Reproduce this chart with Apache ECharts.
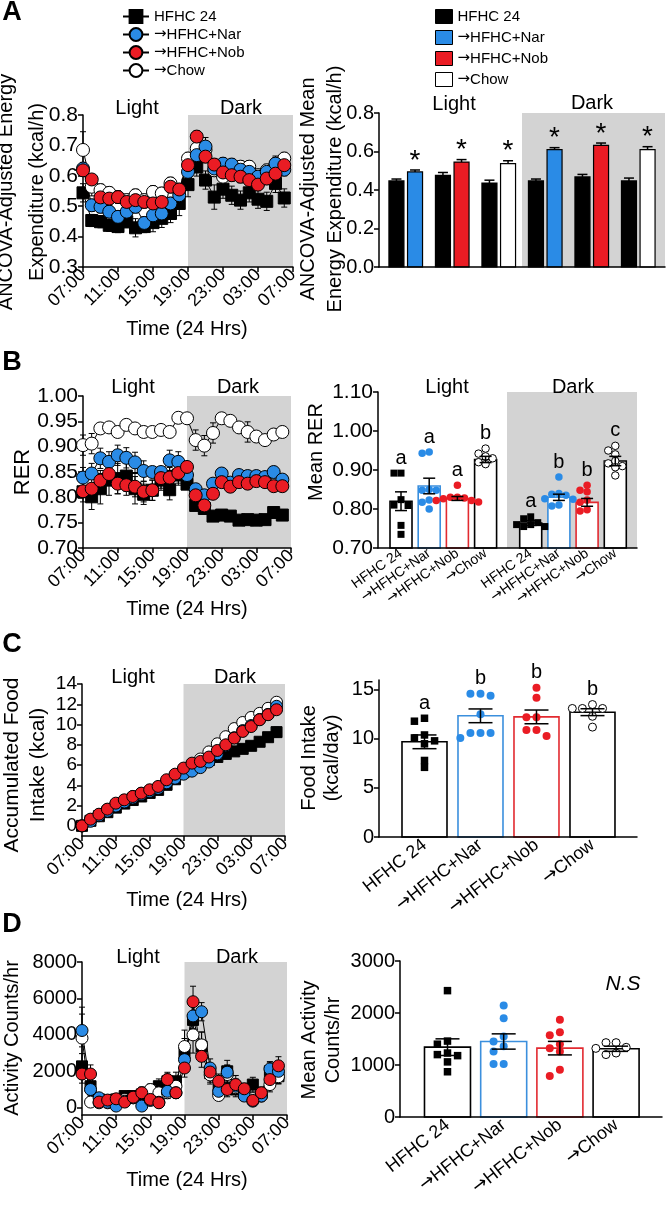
<!DOCTYPE html>
<html><head><meta charset="utf-8">
<script src="https://cdn.jsdelivr.net/npm/echarts@6/dist/echarts.min.js"></script>
<style>html,body{margin:0;padding:0;background:#fff}#c{width:667px;height:1207px}</style>
</head><body><div id="c"></div>
<script>
// ---------------- DATA ----------------
const GROUPS = ['HFHC 24', '→HFHC+Nar', '→HFHC+Nob', '→Chow'];
const TIME_TICKS = ['07:00', '11:00', '15:00', '19:00', '23:00', '03:00', '07:00'];
const HOURS = [0,1,2,3,4,5,6,7,8,9,10,11,12,13,14,15,16,17,18,19,20,21,22,23];
const DARK_HOURS = [12, 24];

// A: ANCOVA-adjusted energy expenditure (kcal/h)
const EE_HFHC = [0.544,0.453,0.449,0.437,0.433,0.449,0.429,0.433,0.446,0.460,0.476,0.509,0.571,0.629,0.586,0.530,0.556,0.536,0.520,0.544,0.523,0.516,0.575,0.527];
const EE_NAR  = [0.624,0.503,0.498,0.482,0.465,0.482,0.498,0.445,0.470,0.476,0.509,0.536,0.613,0.668,0.696,0.624,0.640,0.637,0.620,0.613,0.597,0.613,0.640,0.620];
const EE_NOB  = [0.618,0.588,0.529,0.525,0.530,0.514,0.520,0.514,0.509,0.514,0.564,0.555,0.635,0.729,0.663,0.637,0.611,0.602,0.597,0.586,0.571,0.591,0.607,0.635];
const EE_CHOW = [0.685,0.564,0.553,0.544,0.530,0.520,0.536,0.520,0.547,0.542,0.575,0.553,0.657,0.690,0.685,0.618,0.597,0.630,0.630,0.630,0.602,0.618,0.635,0.657];
const EE_HFHC_SEM = [0.03,0.02,0.02,0.02,0.02,0.02,0.03,0.02,0.03,0.03,0.03,0.04,0.04,0.03,0.03,0.04,0.03,0.03,0.03,0.03,0.03,0.03,0.03,0.03];
const EE_NAR_SEM  = [0.02,0.02,0.02,0.02,0.02,0.02,0.02,0.02,0.02,0.02,0.02,0.02,0.02,0.03,0.03,0.02,0.02,0.02,0.02,0.02,0.02,0.02,0.02,0.02];
const EE_NOB_SEM  = [0.02,0.01,0.02,0.02,0.02,0.02,0.02,0.02,0.02,0.02,0.02,0.02,0.02,0.02,0.02,0.02,0.02,0.02,0.02,0.02,0.02,0.02,0.02,0.02];
const EE_CHOW_SEM = [0.06,0.03,0.02,0.02,0.02,0.02,0.02,0.02,0.02,0.02,0.02,0.02,0.02,0.03,0.02,0.02,0.02,0.02,0.02,0.02,0.02,0.02,0.03,0.02];

const EE_LIGHT_MEAN = [0.447,0.494,0.476,0.545,0.436,0.537];
const EE_LIGHT_SEM  = [0.010,0.010,0.015,0.013,0.015,0.015];
const EE_DARK_MEAN  = [0.447,0.610,0.468,0.632,0.447,0.610];
const EE_DARK_SEM   = [0.010,0.010,0.013,0.012,0.015,0.015];
const EE_BAR_GROUP  = [0,1,0,2,0,3];
const EE_BAR_SIG    = ['','*','','*','','*'];

// B: RER
const RER_HFHC = [0.811,0.801,0.817,0.834,0.837,0.842,0.817,0.806,0.814,0.834,0.815,0.844,0.826,0.784,0.778,0.763,0.765,0.763,0.755,0.756,0.755,0.756,0.770,0.765];
const RER_NAR  = [0.839,0.847,0.877,0.870,0.883,0.878,0.869,0.852,0.850,0.850,0.873,0.870,0.844,0.816,0.804,0.827,0.847,0.829,0.844,0.842,0.842,0.840,0.850,0.835];
const RER_NOB  = [0.812,0.817,0.833,0.846,0.827,0.824,0.821,0.811,0.814,0.838,0.839,0.848,0.860,0.804,0.784,0.807,0.830,0.821,0.830,0.827,0.832,0.830,0.822,0.822];
const RER_CHOW = [0.903,0.906,0.936,0.938,0.929,0.943,0.936,0.929,0.929,0.933,0.929,0.957,0.956,0.913,0.902,0.927,0.956,0.951,0.938,0.929,0.920,0.913,0.924,0.929];
const RER_HFHC_SEM = [0.020,0.025,0.030,0.030,0.030,0.030,0.030,0.020,0.020,0.020,0.020,0.020,0.010,0.010,0.005,0.005,0.005,0.005,0.005,0.005,0.005,0.005,0.010,0.010];
const RER_NAR_SEM  = [0.020,0.020,0.020,0.020,0.020,0.020,0.020,0.020,0.010,0.010,0.020,0.020,0.020,0.010,0.010,0.010,0.010,0.010,0.010,0.010,0.010,0.010,0.010,0.010];
const RER_NOB_SEM  = [0.010,0.010,0.020,0.020,0.020,0.020,0.020,0.020,0.020,0.020,0.020,0.020,0.010,0.010,0.010,0.010,0.010,0.010,0.010,0.010,0.010,0.010,0.010,0.010];
const RER_CHOW_SEM = [0.020,0.020,0.010,0.010,0.010,0.010,0.010,0.010,0.010,0.010,0.010,0.010,0.010,0.020,0.020,0.020,0.010,0.010,0.010,0.020,0.010,0.010,0.010,0.010];

const RER_LIGHT_MEAN = [0.820,0.859,0.827,0.927];
const RER_LIGHT_SEM  = [0.024,0.020,0.005,0.008];
const RER_DARK_MEAN  = [0.764,0.830,0.817,0.923];
const RER_DARK_SEM   = [0.006,0.008,0.010,0.012];
const RER_LIGHT_HFHC = [0.892,0.892,0.824,0.809,0.810,0.758,0.735];
const RER_LIGHT_NAR  = [0.946,0.943,0.848,0.850,0.848,0.823,0.817,0.800];
const RER_LIGHT_NOB  = [0.861,0.830,0.826,0.822,0.830,0.828,0.822,0.818];
const RER_LIGHT_CHOW = [0.955,0.942,0.935,0.920,0.915,0.930];
const RER_DARK_HFHC  = [0.780,0.775,0.760,0.755,0.755,0.760,0.765];
const RER_DARK_NAR   = [0.882,0.840,0.838,0.826,0.825,0.810,0.808,0.835];
const RER_DARK_NOB   = [0.861,0.848,0.844,0.823,0.817,0.798,0.795];
const RER_DARK_CHOW  = [0.950,0.962,0.940,0.923,0.917,0.910,0.886,0.907];
const RER_LIGHT_LETTERS = ['a','a','a','b'];
const RER_DARK_LETTERS  = ['a','b','b','c'];

// C: food intake
const FOOD_HFHC = [0,0.50,0.95,1.35,1.80,2.20,2.55,2.90,3.25,3.55,4.05,4.60,5.30,5.80,6.15,6.50,6.80,7.10,7.35,7.60,7.90,8.30,8.75,9.25];
const FOOD_NAR  = [0,0.45,1.00,1.45,1.95,2.35,2.75,3.10,3.40,3.70,4.25,4.70,5.10,5.40,5.75,6.30,7.10,7.90,8.70,9.40,9.90,10.50,11.00,11.80];
const FOOD_NOB  = [0,0.66,1.15,1.65,2.24,2.57,2.90,3.23,3.56,3.89,4.55,5.10,5.70,6.19,6.36,6.79,7.44,8.00,8.66,9.32,9.80,10.47,10.97,11.46];
const FOOD_CHOW = [0,0.60,1.10,1.60,2.10,2.50,2.90,3.20,3.50,3.80,4.40,4.90,5.50,6.10,6.60,7.30,8.10,8.80,9.60,10.20,10.70,11.10,11.60,12.20];
const FOOD_HFHC_SEM = [0,0.10,0.10,0.10,0.15,0.15,0.15,0.20,0.20,0.20,0.20,0.25,0.25,0.25,0.30,0.30,0.30,0.35,0.35,0.35,0.40,0.40,0.45,0.50];
const FOOD_NAR_SEM  = [0,0.10,0.10,0.10,0.10,0.15,0.15,0.15,0.20,0.20,0.20,0.20,0.25,0.25,0.25,0.30,0.30,0.30,0.30,0.35,0.35,0.35,0.40,0.40];
const FOOD_NOB_SEM  = [0,0.10,0.10,0.10,0.10,0.15,0.15,0.15,0.15,0.20,0.20,0.20,0.20,0.25,0.25,0.25,0.30,0.30,0.30,0.35,0.35,0.35,0.40,0.40];
const FOOD_CHOW_SEM = [0,0.10,0.10,0.10,0.10,0.10,0.15,0.15,0.15,0.15,0.20,0.20,0.20,0.20,0.25,0.25,0.25,0.25,0.30,0.30,0.30,0.30,0.30,0.30];
const FOOD_ACC_TICKS = [0,2,4,6,8,10,12,14];

const FOOD_DAY_MEAN = [9.70,12.35,12.24,12.72];
const FOOD_DAY_SEM  = [0.70,0.70,0.70,0.35];
const FOOD_DAY_HFHC = [12.1,11.8,10.4,10.1,9.8,9.5,7.8,7.1];
const FOOD_DAY_NAR  = [14.6,14.4,14.6,12.5,10.6,10.1,10.6,10.6];
const FOOD_DAY_NOB  = [15.2,14.2,12.2,12.2,10.9,10.9,10.3];
const FOOD_DAY_CHOW = [13.1,13.1,13.5,13.1,12.3,11.2];
const FOOD_DAY_LETTERS = ['a','b','b','b'];
const FOOD_DAY_TICKS = [0,5,10,15];

// D: activity
const ACT_HFHC = [2270,1180,455,400,455,640,640,730,820,1180,1450,1450,3000,4820,3360,1900,950,2000,1000,820,1270,820,2000,1730];
const ACT_NAR  = [4240,1000,545,300,90,360,545,90,400,300,900,820,2640,5040,5270,2180,900,1950,1180,640,360,640,2130,2000];
const ACT_NOB  = [1850,1850,310,420,490,310,580,820,455,270,1545,820,2180,5820,2820,1960,1450,1000,1270,1040,400,820,1545,2300];
const ACT_CHOW = [3820,310,270,270,310,450,545,820,1000,820,820,1180,3360,4000,3450,1800,670,1820,1100,900,500,640,1270,1700];
const ACT_HFHC_SEM = [700,500,200,150,150,200,250,250,300,400,400,500,800,900,800,500,300,600,400,300,400,300,500,400];
const ACT_NAR_SEM  = [900,400,200,150,100,200,200,100,200,200,400,300,600,700,500,500,300,400,400,200,200,200,400,500];
const ACT_NOB_SEM  = [500,500,150,150,200,150,250,300,200,200,400,300,500,850,600,400,400,400,500,300,200,300,400,500];
const ACT_CHOW_SEM = [1700,200,150,150,150,200,200,300,300,300,300,400,900,1000,700,500,200,500,300,250,200,250,400,400];
const ACT_TICKS = [0,2000,4000,6000,8000];

const ACT_MEAN = [1343,1452,1324,1312];
const ACT_SEM  = [160,147,130,50];
const ACT_DOT_HFHC = [2430,1460,1400,1230,1200,1180,1060,870];
const ACT_DOT_NAR  = [2145,1900,1550,1450,1360,1260,1020,1020];
const ACT_DOT_NOB  = [1870,1630,1570,1400,1320,1260,910,790];
const ACT_DOT_CHOW = [1430,1430,1340,1320,1230,1200];

// ---------------- STYLE ----------------
const FONT = '"Liberation Sans", Arial, sans-serif';
const ARROW_FONT = '"DejaVu Sans", sans-serif';
const FILL = ['#000000', '#2a8be6', '#ea1c24', '#ffffff'];
const EDGE = ['#000000', '#3b8fdd', '#e22a30', '#000000'];
const SYM = ['rect', 'circle', 'circle', 'circle'];
const DRAW_ORDER = [0, 3, 1, 2];
const SHADE = '#d3d3d3';

function richName(name) {
  return name.charAt(0) === '→' ? '{a|→}{t|' + name.slice(1) + '}' : '{t|' + name + '}';
}
function richStyle(fs) {
  return {a: {fontFamily: ARROW_FONT, fontSize: fs, color: '#000'}, t: {fontFamily: FONT, fontSize: fs, color: '#000'}};
}

const grids = [
  {left: 83,  top: 115, width: 210, height: 152},
  {left: 379, top: 113, width: 286, height: 154},
  {left: 83,  top: 396, width: 208, height: 152},
  {left: 378, top: 392, width: 259, height: 156},
  {left: 82,  top: 684, width: 203, height: 152},
  {left: 379, top: 680, width: 258, height: 157},
  {left: 82,  top: 962, width: 205, height: 153},
  {left: 400, top: 961, width: 262, height: 156}
];

const xAxes = [], yAxes = [], series = [];
const AXLINE = {show: true, onZero: false, lineStyle: {color: '#000', width: 1.5}};

function timeX(gi) {
  return {gridIndex: gi, type: 'value', min: 0, max: 24, interval: 4, z: 3,
    axisLine: AXLINE, axisTick: {show: true, length: 5, lineStyle: {color: '#000', width: 1.5}},
    splitLine: {show: false},
    axisLabel: {rotate: 45, margin: 5, fontSize: 18, color: '#000', fontFamily: FONT,
      showMinLabel: true, showMaxLabel: true, hideOverlap: false,
      formatter: v => TIME_TICKS[Math.round(v / 4)]}};
}
function catX(gi, min, max, pos, o) {
  return {gridIndex: gi, type: 'value', min: min, max: max, z: 3,
    axisLine: AXLINE, axisTick: {show: false}, splitLine: {show: false},
    axisLabel: {show: !!o, rotate: o ? o.rot : 0, margin: o ? o.margin : 0, fontSize: o ? o.fs : 12,
      color: '#000', fontFamily: FONT, customValues: pos, rich: richStyle(o ? o.fs : 12),
      showMinLabel: true, showMaxLabel: true, hideOverlap: false,
      formatter: v => { const i = pos.findIndex(p => Math.abs(p - v) < 1e-6); return i < 0 ? '' : richName(GROUPS[i % 4]); }}};
}
function valY(gi, o) {
  const ax = {gridIndex: gi, type: 'value', min: o.min, max: o.max, z: 0,
    axisLine: AXLINE, axisTick: {show: true, length: 5, lineStyle: {color: '#000', width: 1.5}},
    splitLine: {show: false},
    axisLabel: {color: '#000', fontSize: o.fs, fontFamily: FONT, margin: 5, formatter: o.fmt, lineHeight: o.lh || 14,
      showMinLabel: true, showMaxLabel: true, hideOverlap: false}};
  if (o.interval) ax.interval = o.interval;
  if (o.ticks) { ax.axisLabel.customValues = o.ticks; ax.axisTick.customValues = o.ticks; }
  return ax;
}

function errItem(capW, upOnly, lw) {
  return function (params, api) {
    const x = api.value(0), m = api.value(1), e = api.value(2);
    if (!e) return null;
    const t = api.coord([x, m + e]);
    const b = api.coord([x, upOnly ? m : m - e]);
    const st = {stroke: '#000', lineWidth: lw, fill: null};
    const ch = [
      {type: 'line', shape: {x1: t[0], y1: t[1], x2: b[0], y2: b[1]}, style: st},
      {type: 'line', shape: {x1: t[0] - capW / 2, y1: t[1], x2: t[0] + capW / 2, y2: t[1]}, style: st}
    ];
    if (!upOnly) ch.push({type: 'line', shape: {x1: b[0] - capW / 2, y1: b[1], x2: b[0] + capW / 2, y2: b[1]}, style: st});
    return {type: 'group', children: ch};
  };
}

function linePanel(gi, vals, sems, symSize, tag) {
  DRAW_ORDER.forEach(g => {
    series.push({type: 'custom', xAxisIndex: gi, yAxisIndex: gi, z: 1, silent: true,
      encode: {x: 0, y: 1}, renderItem: errItem(6, false, 1),
      data: HOURS.map((h, i) => [h, vals[g][i], sems[g][i]])});
  });
  DRAW_ORDER.forEach((g, k) => {
    const s = {type: 'line', name: tag ? GROUPS[g] + ' ' + tag : GROUPS[g], xAxisIndex: gi, yAxisIndex: gi, z: 2,
      data: HOURS.map((h, i) => [h, vals[g][i]]), symbol: SYM[g], symbolSize: g === 0 ? symSize - 1 : symSize,
      showSymbol: true, showAllSymbol: true, silent: true,
      lineStyle: {color: '#000', width: 1}, itemStyle: {color: FILL[g], borderColor: '#000', borderWidth: 1},
      emphasis: {disabled: true}};
    if (k === 0) s.markArea = {silent: true, itemStyle: {color: SHADE}, data: [[{xAxis: DARK_HOURS[0]}, {xAxis: DARK_HOURS[1]}]]};
    series.push(s);
  });
}

function swarm(vals, center, dx, minDy) {
  const placed = [], res = new Array(vals.length);
  const order = vals.map((v, i) => i).sort((a, b) => vals[b] - vals[a]);
  order.forEach(i => {
    const v = vals[i];
    for (const k of [0, -1, 1, -2, 2, -3, 3]) {
      if (!placed.some(p => p.k === k && Math.abs(p.v - v) < minDy)) { placed.push({k: k, v: v}); res[i] = [center + k * dx, v]; break; }
    }
  });
  return res;
}

function barPanel(gi, o) {
  const bars = {type: 'custom', xAxisIndex: gi, yAxisIndex: gi, z: 2, silent: true, encode: {x: 0, y: 1},
    data: o.pos.map((x, i) => [x, o.mean[i], o.grp[i]]),
    renderItem: (params, api) => {
      const x = api.value(0), v = api.value(1), g = api.value(2);
      const p = api.coord([x, v]), b = api.coord([x, o.yMin]);
      return {type: 'rect', shape: {x: p[0] - o.barW / 2, y: p[1], width: o.barW, height: b[1] - p[1]},
        style: {fill: o.filled ? FILL[g] : '#fff', stroke: o.filled ? '#000' : EDGE[g], lineWidth: o.filled ? 1.2 : 1.6}};
    }};
  if (o.shade) bars.markArea = {silent: true, itemStyle: {color: SHADE}, data: [[{xAxis: o.shade[0]}, {xAxis: o.shade[1]}]]};
  series.push(bars);
  if (o.dots) o.dots.forEach((vals, i) => {
    const g = o.grp[i];
    series.push({type: 'scatter', xAxisIndex: gi, yAxisIndex: gi, z: 3, silent: true,
      symbol: SYM[g], symbolSize: g === 0 ? o.dotSize - 0.5 : o.dotSize,
      itemStyle: {color: FILL[g], borderColor: '#000', borderWidth: g === 3 ? 1 : 0, opacity: 1},
      data: swarm(vals, o.pos[i], o.dx, o.minDy)});
  });
  series.push({type: 'custom', xAxisIndex: gi, yAxisIndex: gi, z: 4, silent: true, encode: {x: 0, y: 1},
    renderItem: errItem(o.capW, o.upOnly, 1.5), data: o.pos.map((x, i) => [x, o.mean[i], o.sem[i]])});
  if (o.marks) {
    const tops = o.pos.map((x, i) => o.dots ? Math.max.apply(null, o.dots[i]) : o.mean[i] + o.sem[i]);
    series.push({type: 'custom', xAxisIndex: gi, yAxisIndex: gi, z: 5, silent: true, encode: {x: 0, y: 1},
      data: o.pos.map((x, i) => [x, tops[i]]),
      renderItem: (params, api) => {
        const t = o.marks[params.dataIndex];
        if (!t) return null;
        const p = api.coord([api.value(0), api.value(1)]);
        return {type: 'text', x: p[0], y: p[1] - o.markGap,
          style: {text: t, font: o.markFont, fill: '#000', align: 'center', verticalAlign: 'middle',
            textAlign: 'center', textVerticalAlign: 'middle'}};
      }});
  }
}

// ---- A left ----
xAxes.push(timeX(0));
yAxes.push(valY(0, {min: 0.3, max: 0.8, interval: 0.1, fs: 21, fmt: v => v.toFixed(1)}));
linePanel(0, [EE_HFHC, EE_NAR, EE_NOB, EE_CHOW], [EE_HFHC_SEM, EE_NAR_SEM, EE_NOB_SEM, EE_CHOW_SEM], 13, '');

// ---- A right ----
(function () {
  const pos = [], mean = [], sem = [], grp = [], sig = [];
  [[EE_LIGHT_MEAN, EE_LIGHT_SEM], [EE_DARK_MEAN, EE_DARK_SEM]].forEach((set, s) => {
    for (let k = 0; k < 3; k++) {
      for (let j = 0; j < 2; j++) {
        const i = k * 2 + j;
        pos.push(s * 3 + k + (j === 0 ? -0.2 : 0.2));
        mean.push(set[0][i]); sem.push(set[1][i]); grp.push(EE_BAR_GROUP[i]); sig.push(EE_BAR_SIG[i]);
      }
    }
  });
  xAxes.push(catX(1, -0.575, 5.575, pos, null));
  yAxes.push(valY(1, {min: 0, max: 0.8, interval: 0.2, fs: 20, fmt: v => v.toFixed(1)}));
  barPanel(1, {pos, mean, sem, grp, barW: 15, yMin: 0, filled: true, capW: 10, upOnly: true,
    shade: [2.5, 5.575], marks: sig, markFont: '28px ' + FONT, markGap: 9});
})();

// ---- B left ----
xAxes.push(timeX(2));
yAxes.push(valY(2, {min: 0.70, max: 1.00, interval: 0.05, fs: 21, fmt: v => v.toFixed(2)}));
linePanel(2, [RER_HFHC, RER_NAR, RER_NOB, RER_CHOW], [RER_HFHC_SEM, RER_NAR_SEM, RER_NOB_SEM, RER_CHOW_SEM], 13, 'RER');

// ---- B right ----
(function () {
  const pos = [0, 1, 2, 3, 4.6, 5.6, 6.6, 7.6];
  xAxes.push(catX(3, -0.816, 8.37, pos, {rot: 35, margin: 4, fs: 14}));
  yAxes.push(valY(3, {min: 0.70, max: 1.10, interval: 0.1, fs: 21, fmt: v => v.toFixed(2)}));
  barPanel(3, {pos, mean: RER_LIGHT_MEAN.concat(RER_DARK_MEAN), sem: RER_LIGHT_SEM.concat(RER_DARK_SEM),
    grp: [0, 1, 2, 3, 0, 1, 2, 3], barW: 22, yMin: 0.70, filled: false, capW: 12, upOnly: false,
    dots: [RER_LIGHT_HFHC, RER_LIGHT_NAR, RER_LIGHT_NOB, RER_LIGHT_CHOW, RER_DARK_HFHC, RER_DARK_NAR, RER_DARK_NOB, RER_DARK_CHOW],
    dx: 0.25, minDy: 0.016, dotSize: 7.5, shade: [3.76, 8.37],
    marks: RER_LIGHT_LETTERS.concat(RER_DARK_LETTERS), markFont: '20px ' + FONT, markGap: 15});
})();

// ---- C left ----
xAxes.push(timeX(4));
yAxes.push(valY(4, {min: -1, max: 14, fs: 19, lh: 12, ticks: FOOD_ACC_TICKS, fmt: v => String(v)}));
linePanel(4, [FOOD_HFHC, FOOD_NAR, FOOD_NOB, FOOD_CHOW], [FOOD_HFHC_SEM, FOOD_NAR_SEM, FOOD_NOB_SEM, FOOD_CHOW_SEM], 12, 'Food');

// ---- C right ----
(function () {
  const pos = [0, 1, 2, 3];
  xAxes.push(catX(5, -0.8125, 3.795, pos, {rot: 38, margin: 6, fs: 18}));
  yAxes.push(valY(5, {min: 0, max: 16, fs: 20, ticks: FOOD_DAY_TICKS, fmt: v => String(v)}));
  barPanel(5, {pos, mean: FOOD_DAY_MEAN, sem: FOOD_DAY_SEM, grp: [0, 1, 2, 3], barW: 45, yMin: 0, filled: false,
    capW: 24, upOnly: false, dots: [FOOD_DAY_HFHC, FOOD_DAY_NAR, FOOD_DAY_NOB, FOOD_DAY_CHOW],
    dx: 0.18, minDy: 0.7, dotSize: 8, marks: FOOD_DAY_LETTERS, markFont: '20px ' + FONT, markGap: 15});
})();

// ---- D left ----
xAxes.push(timeX(6));
yAxes.push(valY(6, {min: -400, max: 8000, fs: 20, ticks: ACT_TICKS, fmt: v => String(v)}));
linePanel(6, [ACT_HFHC, ACT_NAR, ACT_NOB, ACT_CHOW], [ACT_HFHC_SEM, ACT_NAR_SEM, ACT_NOB_SEM, ACT_CHOW_SEM], 12, 'Act');

// ---- D right ----
(function () {
  const pos = [0, 1, 2, 3];
  xAxes.push(catX(7, -0.845, 3.817, pos, {rot: 38, margin: 6, fs: 18}));
  yAxes.push(valY(7, {min: 0, max: 3000, interval: 1000, fs: 20, fmt: v => String(v)}));
  barPanel(7, {pos, mean: ACT_MEAN, sem: ACT_SEM, grp: [0, 1, 2, 3], barW: 46, yMin: 0, filled: false,
    capW: 24, upOnly: false, dots: [ACT_DOT_HFHC, ACT_DOT_NAR, ACT_DOT_NOB, ACT_DOT_CHOW],
    dx: 0.18, minDy: 135, dotSize: 8});
})();

// ---------------- TEXT ----------------
function txt(text, x, y, fs, opt) {
  opt = opt || {};
  return {type: 'text', x: x, y: y, rotation: opt.rot || 0, silent: true, z: 10,
    style: {text: text, font: (opt.style || '') + ' ' + (opt.weight || 'normal') + ' ' + fs + 'px ' + FONT,
      fill: '#000', align: 'center', verticalAlign: 'middle', textAlign: 'center', textVerticalAlign: 'middle',
      lineHeight: opt.lh || fs}};
}
const R = Math.PI / 2;
const graphics = [
  txt('A', 12, 13, 27, {weight: 'bold'}),
  txt('B', 12, 363, 27, {weight: 'bold'}),
  txt('C', 12, 645, 27, {weight: 'bold'}),
  txt('D', 12, 925, 27, {weight: 'bold'}),
  txt('ANCOVA-Adjusted Energy\nExpenditure (kcal/h)', 22, 192, 20, {rot: R, lh: 31}),
  txt('ANCOVA-Adjusted Mean\nEnergy Expenditure (kcal/h)', 322, 189, 20, {rot: R, lh: 27}),
  txt('RER', 23, 472, 22, {rot: R}),
  txt('Mean RER', 316, 452, 20, {rot: R}),
  txt('Accumulated Food\nIntake (kcal)', 25, 765, 21, {rot: R, lh: 26}),
  txt('Food Intake\n(kcal/day)', 321, 758, 20, {rot: R, lh: 23}),
  txt('Activity Counts/hr', 12, 1038, 20, {rot: R}),
  txt('Mean Activity\nCounts/hr', 321, 1040, 20, {rot: R, lh: 24}),
  txt('Time (24 Hrs)', 187, 329, 20), txt('Time (24 Hrs)', 187, 609, 20),
  txt('Time (24 Hrs)', 187, 900, 20), txt('Time (24 Hrs)', 187, 1180, 20),
  txt('Light', 137, 108, 20), txt('Dark', 241, 108, 20),
  txt('Light', 133, 387, 20), txt('Dark', 238, 387, 20),
  txt('Light', 133, 677, 20), txt('Dark', 235, 677, 20),
  txt('Light', 138, 957, 20), txt('Dark', 237, 957, 20),
  txt('Light', 454, 104, 20), txt('Dark', 592, 103, 20),
  txt('Light', 447, 387, 20), txt('Dark', 573, 387, 20),
  txt('N.S', 623, 984, 21, {style: 'italic'})
];

const option = {
  animation: false,
  backgroundColor: '#fff',
  textStyle: {fontFamily: FONT},
  grid: grids,
  xAxis: xAxes,
  yAxis: yAxes,
  legend: [
    {orient: 'vertical', left: 117, top: 4, itemWidth: 26, itemHeight: 16, itemGap: 3, selectedMode: false,
      textStyle: {fontSize: 15, color: '#000', fontFamily: FONT, rich: richStyle(15)}, formatter: richName,
      data: GROUPS.slice()},
    {orient: 'vertical', left: 430, top: 4, itemWidth: 17, itemHeight: 14, itemGap: 6, selectedMode: false,
      textStyle: {fontSize: 15, color: '#000', fontFamily: FONT, rich: richStyle(15)}, formatter: richName,
      data: GROUPS.map((g, i) => ({name: g, icon: 'rect', itemStyle: {color: FILL[i], borderColor: '#000', borderWidth: 1}}))}
  ],
  graphic: graphics,
  series: series
};
const chart = echarts.init(document.getElementById('c'), null, {renderer: 'canvas'});
chart.setOption(option);
</script></body></html>
